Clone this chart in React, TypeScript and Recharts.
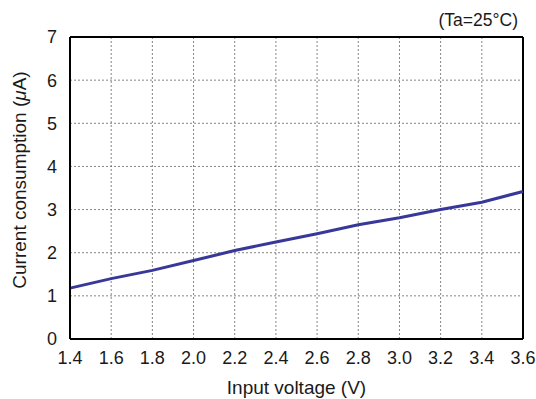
import React from 'react';
import { LineChart, Line, XAxis, YAxis, CartesianGrid, ReferenceLine, Label } from 'recharts';

const voltages = [1.4, 1.6, 1.8, 2.0, 2.2, 2.4, 2.6, 2.8, 3.0, 3.2, 3.4, 3.6];
const currents = [1.18, 1.4, 1.59, 1.82, 2.05, 2.25, 2.44, 2.65, 2.81, 3.0, 3.17, 3.42];
const xTicks = [1.4, 1.6, 1.8, 2.0, 2.2, 2.4, 2.6, 2.8, 3.0, 3.2, 3.4, 3.6];
const yTicks = [0, 1, 2, 3, 4, 5, 6, 7];

const data = voltages.map((v, i) => ({ v, c: currents[i] }));

const FONT = '"Liberation Sans", Arial, sans-serif';

const YLabel = (props: any) => {
  const { viewBox } = props;
  const cx = 19;
  const cy = viewBox.y + viewBox.height / 2 - 8;
  return (
    <text x={cx} y={cy} transform={`rotate(-90 ${cx} ${cy})`} textAnchor="middle" dominantBaseline="central" fontSize={19} fill="#1a1a1a" fontFamily={FONT}>
      Current consumption (<tspan fontStyle="italic">μ</tspan>A)
    </text>
  );
};

export default function App() {
  return (
    <div style={{ position: 'fixed', left: 0, top: 0, width: 536, height: 399, background: '#fff' }}>
      <LineChart width={536} height={399} data={data} margin={{ top: 37, right: 13, bottom: 0, left: 0 }}>
        <CartesianGrid stroke="#666" strokeDasharray="2 2" strokeWidth={0.8} />
        <XAxis
          dataKey="v"
          type="number"
          domain={[1.4, 3.6]}
          ticks={xTicks}
          tickFormatter={(t: number) => t.toFixed(1)}
          tickLine={false}
          axisLine={{ stroke: '#000', strokeWidth: 2 }}
          tick={{ fontSize: 18, fill: '#1a1a1a', fontFamily: FONT }}
          tickMargin={6}
          height={60}
          interval={0}
        >
          <Label value="Input voltage (V)" position="insideBottom" offset={5} style={{ fontSize: 19, fill: '#1a1a1a', fontFamily: FONT }} />
        </XAxis>
        <YAxis
          type="number"
          domain={[0, 7]}
          ticks={yTicks}
          tickLine={false}
          axisLine={{ stroke: '#000', strokeWidth: 2 }}
          tick={{ fontSize: 18, fill: '#1a1a1a', fontFamily: FONT }}
          tickMargin={7}
          width={70}
          interval={0}
        >
          <Label content={<YLabel />} />
        </YAxis>
        <ReferenceLine y={7} stroke="#000" strokeWidth={2} />
        <ReferenceLine x={3.6} stroke="#000" strokeWidth={2} />
        <Line type="linear" dataKey="c" stroke="#38389a" strokeWidth={3} dot={false} isAnimationActive={false} />
        <text x={518} y={26} textAnchor="end" fontSize={17.5} fill="#1a1a1a" fontFamily={FONT}>(Ta=25°C)</text>
      </LineChart>
    </div>
  );
}
